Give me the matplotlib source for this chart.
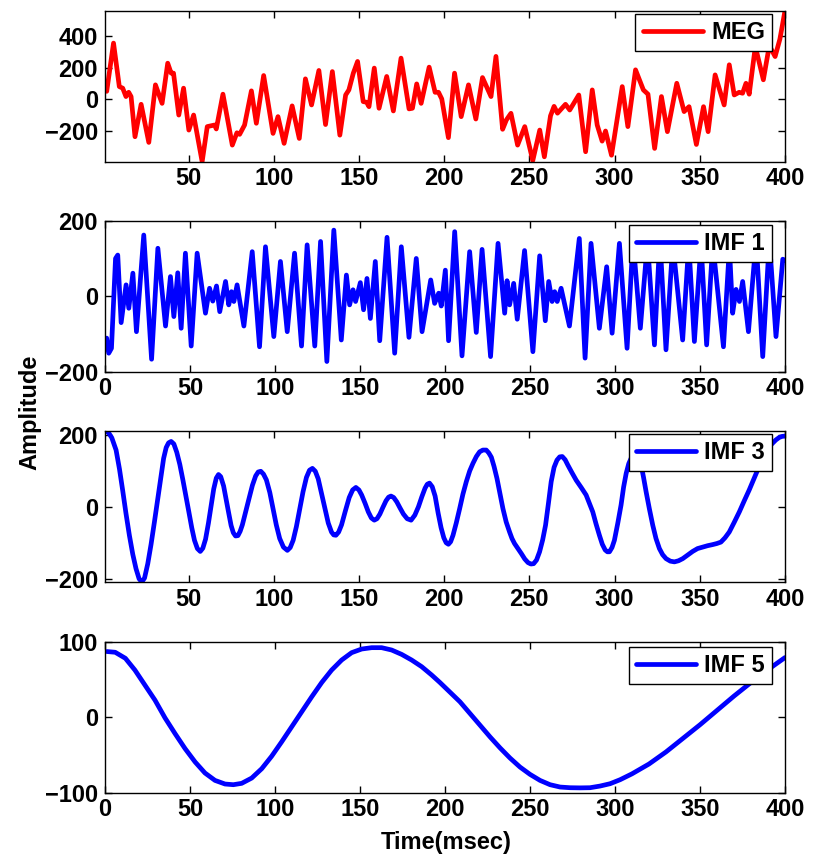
import matplotlib
matplotlib.use("Agg")
import matplotlib.pyplot as plt

plt.rcParams['font.family'] = ['Liberation Sans', 'DejaVu Sans']
plt.rcParams['font.weight'] = 'bold'
plt.rcParams['axes.unicode_minus'] = True

# ---- raw MEG trace (msec, amplitude) ----
meg_t = [1, 2, 6, 9.4, 11.4, 13.3, 14.9, 16.3, 18.6, 22.2, 26.7, 30.6, 34.5,
         37.8, 39.8, 41.2, 44.3, 47.1, 50.2, 53, 58, 61, 65.3, 66.3, 70.2,
         75.7, 78.4, 80, 82.9, 86.9, 89.8, 94.1, 99.6, 102.5, 106.1, 110.8,
         115, 118.6, 122.2, 126.5, 130.4, 134.4, 138.8, 142.2, 144.1, 146.7,
         149.2, 152.5, 154.5, 155.9, 159, 161.8, 166.3, 170.2, 174.7, 179.4,
         181.4, 183.9, 186.5, 191.2, 194.7, 196.7, 198.6, 202.5, 206.1, 210,
         214.3, 218.6, 222.5, 227.5, 230.4, 234.3, 236.5, 239.2, 243.1, 247.3,
         252, 256.1, 258.8, 262.4, 264.5, 266.5, 271.2, 273.7, 279, 283,
         286.9, 289.8, 292.7, 294.7, 298.2, 304.5, 307.8, 312.3, 316.9, 319.6,
         323.5, 327.5, 331, 336.5, 340.8, 343.7, 348, 352.2, 354.9, 359,
         364.3, 367.3, 370.2, 373.1, 375.1, 377.1, 379, 382.6, 387.3, 390.8,
         394.2, 397, 400]
meg_v = [55, 50, 355, 80, 70, 17, 44, 17, -237, -32, -273, 91, -26,
         228, 165, 165, -100, 70, -195, -100, -395, -173, -163, -188, 32,
         -290, -212, -222, -163, 53, -152, 150, -216, -110, -279, -42,
         -248, 129, -36, 182, -160, 175, -227, 27, 59, 165,
         239, -15, -19, -47, 197, -57, 144, -74, 260, -61,
         -57, 97, -26, 203, 44, 44, 2, -243, 165, -110,
         91, -125, 137, 17, 271, -190, -131, -89, -290, -173,
         -388, -195, -364, -105, -45, -88, -32, -68, 27, -332,
         59, -163, -265, -201, -354, 80, -173, 186, 59, 32,
         -311, 17, -205, 101, -78, -47, -286, -47, -205, 154,
         -36, 218, 27, 44, 38, 101, 32, 334, 123, 340,
         270, 380, 560]

# ---- IMF 1 ----
imf1_t = [1, 2.2, 3.8, 6.2, 7.5, 9.5, 12.4, 14, 16.4, 18.5, 22.8, 27.4, 31.1,
          35.6, 38.5, 40.5, 42.8, 44.8, 47.3, 50.7, 54.2, 59.1, 61.5, 63.4,
          65.6, 67.5, 70.9, 72.8, 74.4, 75.8, 77.7, 81.7, 86.6, 90.9, 94.4,
          99.3, 103.2, 107.2, 111.5, 115.6, 118.9, 123.4, 126.8, 130.5, 134.6,
          139, 142, 143.9, 145.9, 147.4, 150.2, 152.1, 154.1, 156.1, 159,
          161.6, 165.9, 170.4, 174.3, 178.8, 183.1, 186.5, 191.6, 193.9,
          196.3, 197.8, 200.2, 202.1, 205.7, 210, 214.5, 218.4, 221.8, 226.8,
          231.2, 235.1, 236.5, 238, 240.4, 242.5, 246.8, 251.7, 255.7, 259,
          261, 263, 264.5, 266, 268.3, 273.2, 279, 282.4, 285.9, 290.8, 295.1,
          298.3, 302.6, 307.1, 310.6, 314.9, 319.1, 323.2, 326.4, 330, 334,
          339.8, 343.4, 346.7, 350.6, 353.9, 357.5, 363.8, 367.3, 369.2,
          371.2, 373.2, 375.1, 378.5, 383, 386.9, 390.8, 394.7, 398.7, 400]
imf1_v = [-111, -151, -138, 100, 109, -70, 30, -32, 61, -94, 162, -167, 127,
          -79, 52, -54, 62, -85, 114, -132, 114, -45, 21, -13,
          27, -41, 39, -23, 12, -14, 30, -79, 118, -134, 131,
          -107, 92, -94, 114, -132, 136, -132, 145, -173, 175,
          -116, 56, -23, 17, -14, 36, -36, 47, -59, 92,
          -118, 156, -151, 131, -109, 100, -94, 43, -19,
          8, -26, 69, -118, 171, -158, 118, -96, 124, -160,
          140, -45, 41, -23, 34, -61, 121, -147, 107, -65,
          39, -14, 12, -14, 21, -79, 153, -164, 140, -85, 78,
          -98, 140, -138, 150, -85, 145, -129, 155, -142, 140,
          -116, 140, -120, 140, -129, 140, -134, 130, -45,
          18, -14, 39, -94, 150, -160, 150, -107, 98, 95]

# ---- IMF 3 ----
imf3_t = [1, 3, 5, 7.5, 9.5, 11.4, 13.3, 15.3, 17.3, 19.2, 21, 22.6, 24.2,
          26.1, 28, 30, 32, 33.9, 35.4, 36.9, 38.3, 39.8, 41.4, 43.1, 44.9,
          46.7, 48.5, 50.2, 51.9, 53.5, 55.2, 56.9, 58.4, 60, 61.7, 63.3,
          64.8, 66.3, 67.6, 68.9, 70.6, 72.2, 73.7, 75, 76.3, 77.6, 79, 80.3,
          81.6, 83.5, 85.5, 87.5, 89.4, 90.9, 92.4, 94, 95.7, 97.7, 99.6,
          101.5, 103.5, 105.7, 108, 109.7, 111.4, 113.3, 115.3, 117.2, 119.2,
          121, 122.7, 124.4, 126.1, 128, 130, 132, 133.9, 135.2, 136.5, 138.1,
          139.8, 142, 144.3, 146.3, 148.2, 150, 151.6, 153.6, 155.5, 157.3,
          159, 160.6, 162.3, 164, 165.9, 167.4, 168.8, 170.4, 172.2, 174.1,
          176.1, 178.3, 180.6, 182.8, 184.9, 186.9, 188.8, 190.1, 191.4, 193,
          194.7, 196.5, 198.2, 199.8, 201.2, 202.5, 203.8, 205.2, 207.1,
          209.1, 211, 213, 215, 216.9, 218.9, 220.8, 222.7, 224.7, 226.2,
          227.7, 229.3, 231, 232.8, 234.5, 236.4, 238.4, 239.8, 241.3, 243.3,
          245.3, 247.3, 249.2, 250.9, 252.5, 254.2, 256, 257.8, 259.5, 261.2,
          262.8, 264.5, 266.2, 267.8, 269.3, 271, 272.6, 275, 277.5, 280.4,
          283.3, 285.2, 287.2, 289.1, 291.1, 292.8, 294.5, 295.8, 297, 298.5,
          299.9, 301.9, 303.8, 305.3, 306.8, 308.3, 309.7, 311.2, 312.7,
          314.2, 315.6, 317, 318.5, 320.4, 322.4, 324.3, 326.3, 328.2, 330.2,
          332.7, 335.1, 337.5, 340, 342.9, 345.8, 348.7, 351.7, 354.6, 357.5,
          360, 362.4, 364.8, 367.3, 370.2, 373.2, 376.1, 379, 381.5, 383.9,
          386.3, 388.8, 390.7, 392.7, 394.6, 396.6, 398.3, 400]
imf3_v = [211, 207, 192, 158, 105, 45, -18, -79, -132, -172, -200, -209, -198,
          -158, -105, -42, 24, 88, 135, 165, 178, 182, 175, 152, 118,
          75, 30, -14, -58, -93, -116, -124, -115, -90, -45, 5,
          50, 80, 90, 84, 58, 17, -20, -52, -72, -81, -80, -68,
          -50, -15, 23, 60, 86, 97, 99, 91, 75, 40, -5,
          -50, -88, -112, -121, -113, -93, -55, -5, 42, 82,
          102, 107, 99, 78, 38, -5, -45, -70, -78, -79, -70,
          -50, -12, 26, 47, 54, 47, 33, 10, -14, -31,
          -37, -33, -20, -2, 17, 27, 30, 26, 14, -3,
          -20, -33, -37, -23, 0, 28, 52, 63, 66, 56,
          30, -18, -58, -86, -100, -104, -97, -79, -45,
          -5, 35, 70, 100, 121, 140, 153, 158, 158, 150,
          138, 112, 79, 36, -5, -42, -70, -88, -102, -116,
          -130, -145, -155, -159, -158, -148, -125, -92, -51, 10,
          70, 110, 130, 139, 140, 131, 116, 95, 74, 54,
          33, 10, -14, -47, -79, -104, -120, -125, -125, -113,
          -93, -45, 5, 55, 93, 120, 135, 141, 138,
          128, 116, 82, 42, -5, -51, -88, -116, -133, -144,
          -151, -153, -150, -144, -134, -124, -116, -112, -108, -105,
          -102, -98, -86, -70, -43, -14, 17, 47, 75, 102,
          130, 154, 167, 177, 186, 193, 196, 197]

# ---- IMF 5 ----
imf5_t = [1, 6, 12, 17.6, 23.5, 29.4, 35.3, 41.2, 47.1, 53, 58.8, 64.7,
          70.6, 75.5, 80.4, 86.3, 92.2, 98, 103.9, 109.8, 115.7, 121.6,
          127.5, 133.3, 139.2, 145.1, 151, 156.9, 162.7, 168.6, 174.5, 180.4,
          186.3, 192.2, 197, 203, 208.8, 214.7, 220.6, 226.5, 232.4, 238.2,
          244.1, 250, 255.9, 261.8, 267.7, 273.5, 279.4, 285.3, 291.2, 297.1,
          303, 310, 320, 330, 340, 350, 360, 370, 380, 390, 400]
imf5_v = [87, 86, 78, 62.4, 42.5, 22.6, -0.9, -21.7, -41.6, -59.3, -73.9, -83.7,
          -88.5, -89.4, -87.6, -80.6, -68.2, -51.8, -32.7, -12.8, 7.1, 27,
          46, 62.4, 75.7, 85.5, 90.3, 92.1, 92.1, 89, 83.2, 75.7,
          66.9, 55.8, 46, 33, 20.4, 4.9, -10.6, -26.1, -40.7, -54,
          -66, -75.7, -83.7, -89.4, -92.5, -93.4, -93.6, -93.4, -91.2, -88.1,
          -82.8, -75, -62, -46, -28, -10, 9, 28, 46, 63, 79]

panel_labels = ['MEG', 'IMF 1', 'IMF 3', 'IMF 5']
panel_colors = ['#ff0000', '#0000ff', '#0000ff', '#0000ff']
panel_xticks = [list(range(50, 401, 50)), list(range(0, 401, 50)),
                list(range(50, 401, 50)), list(range(0, 401, 50))]
panel_yticks = [[-200, 0, 200, 400], [-200, 0, 200], [-200, 0, 200], [-100, 0, 100]]
panel_xlim = [(1, 400), (0, 400), (1, 400), (0, 400)]
panel_ylim = [None, (-200, 200), None, (-100, 100)]

series = [(meg_t, meg_v), (imf1_t, imf1_v), (imf3_t, imf3_v), (imf5_t, imf5_v)]
for t, v in series:
    assert len(t) == len(v), (len(t), len(v))

FS = 17
W, H = 813, 859
fig = plt.figure(figsize=(W / 100, H / 100), dpi=100)

ax_left, ax_right = 105, 785
ax_tops = [10.7, 220.7, 431, 641.7]
ax_h = 151
legend_anchor_y = [0.976, 0.972, 0.978, 0.967]

for i, (t, v) in enumerate(series):
    top = ax_tops[i]
    rect = [ax_left / W, 1 - (top + ax_h) / H, (ax_right - ax_left) / W, ax_h / H]
    ax = fig.add_axes(rect)
    ax.plot(t, v, color=panel_colors[i], lw=3.4, label=panel_labels[i],
            solid_joinstyle='round', solid_capstyle='round')
    ax.set_xlim(*panel_xlim[i])
    if panel_ylim[i] is None:
        ax.set_ylim(min(v), max(v))
    else:
        ax.set_ylim(*panel_ylim[i])
    ax.set_xticks(panel_xticks[i])
    ax.set_yticks(panel_yticks[i])
    ax.tick_params(direction='in', length=5, width=1, top=True, right=True,
                   labelsize=FS, pad=5)
    ax.tick_params(axis='x', pad=4)
    for lab in ax.get_xticklabels() + ax.get_yticklabels():
        lab.set_fontweight('bold')
    for sp in ax.spines.values():
        sp.set_linewidth(1.0)
    leg = ax.legend(loc='upper right', bbox_to_anchor=(0.981, legend_anchor_y[i]),
                    borderaxespad=0, fancybox=False, framealpha=1,
                    edgecolor='black', handlelength=2.55, handletextpad=0.35,
                    borderpad=0.3, prop={'size': FS, 'weight': 'bold'})
    leg.get_frame().set_linewidth(1.0)

fig.text(30 / W, 1 - 412 / H, 'Amplitude', rotation=90, ha='center', va='center',
         fontsize=FS, fontweight='bold')
fig.text(446 / W, 1 - 843 / H, 'Time(msec)', ha='center', va='center',
         fontsize=FS, fontweight='bold')

fig.savefig('out.png', dpi=100)
